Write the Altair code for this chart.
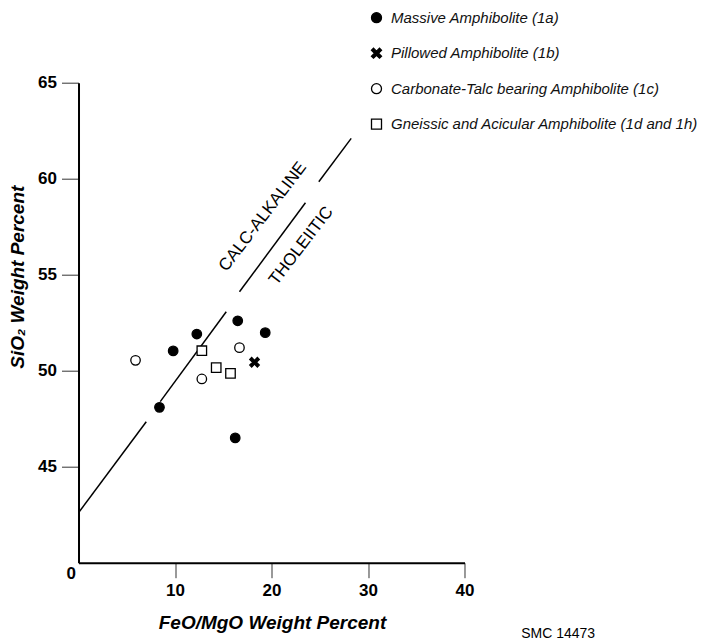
import altair as alt
import pandas as pd

series_names = [
    "Massive Amphibolite (1a)",
    "Pillowed Amphibolite (1b)",
    "Carbonate-Talc bearing Amphibolite (1c)",
    "Gneissic and Acicular Amphibolite (1d and 1h)",
]

massive_x = [16.5, 19.35, 12.26, 9.81, 8.39, 16.24]
massive_y = [52.6, 51.98, 51.91, 51.03, 48.09, 46.5]
pillowed_x = [18.24]
pillowed_y = [50.44]
carbonate_x = [5.91, 16.68, 12.78]
carbonate_y = [50.54, 51.2, 49.57]
gneissic_x = [12.78, 14.27, 15.75]
gneissic_y = [51.04, 50.16, 49.86]

# calc-alkaline / tholeiitic boundary, drawn as broken segments
boundary_x1 = [0.0, 8.47, 16.68, 24.9]
boundary_y1 = [42.6, 48.39, 54.11, 59.84]
boundary_x2 = [7.02, 15.31, 23.52, 28.26]
boundary_y2 = [47.34, 53.07, 58.75, 62.1]

field_labels = ["CALC-ALKALINE", "THOLEIITIC"]
field_x = [19.1, 23.08]
field_y = [58.02, 56.5]

caption = ["SMC 14473"]
caption_x = [49.7]
caption_y = [36.3]

x_ticks = [0, 10, 20, 30, 40]
y_ticks = [45, 50, 55, 60, 65]

FONT = "Liberation Sans"

rows = []
for name, xs, ys in zip(series_names,
                        [massive_x, pillowed_x, carbonate_x, gneissic_x],
                        [massive_y, pillowed_y, carbonate_y, gneissic_y]):
    for a, b in zip(xs, ys):
        rows.append({"series": name, "x": a, "y": b})
pts_df = pd.DataFrame(rows)

seg_df = pd.DataFrame({"x1": boundary_x1, "y1": boundary_y1,
                       "x2": boundary_x2, "y2": boundary_y2})
lab_df = pd.DataFrame({"label": field_labels, "x": field_x, "y": field_y})
cap_df = pd.DataFrame({"label": caption, "x": caption_x, "y": caption_y})

xscale = alt.Scale(domain=[0, 40], nice=False, zero=False)
yscale = alt.Scale(domain=[40, 65], nice=False, zero=False)

is0 = "datum.value == 0"
xaxis = alt.Axis(
    values=x_ticks, title="FeO/MgO Weight Percent", grid=False,
    domainColor="black", domainWidth=2,
    tickColor="#333", tickWidth=1, tickSize=15,
    tickOpacity={"condition": {"test": is0, "value": 0}, "value": 1},
    labelAlign={"condition": {"test": is0, "value": "right"}, "value": "center"},
    labelBaseline={"condition": {"test": is0, "value": "bottom"}, "value": "top"},
    labelOffset={"condition": {"test": is0, "value": -3}, "value": 0},
    labelPadding=5, labelFont=FONT, labelFontSize=17, labelFontWeight="bold",
    labelColor="black",
    titleFont=FONT, titleFontSize=19, titleFontWeight="bold", titleFontStyle="italic",
    titleColor="black", titleX=193.5, titleY=60, titleBaseline="middle",
)
yaxis = alt.Axis(
    values=y_ticks, title="SiO₂ Weight Percent", grid=False,
    domainColor="black", domainWidth=2,
    tickColor="#333", tickWidth=1, tickSize=17,
    labelPadding=5, labelFont=FONT, labelFontSize=17, labelFontWeight="bold",
    labelColor="black",
    titleFont=FONT, titleFontSize=19, titleFontWeight="bold", titleFontStyle="italic",
    titleColor="black", titleAngle=270, titleX=-61, titleY=194,
    titleAlign="center", titleBaseline="middle",
)

xpath = "M-1,-0.6L-0.6,-1L0,-0.4L0.6,-1L1,-0.6L0.4,0L1,0.6L0.6,1L0,0.4L-0.6,1L-1,0.6L-0.4,0Z"

legend = alt.Legend(
    title=None, orient="none", legendX=290.5, legendY=-72.5, padding=0,
    rowPadding=18.5, labelFont=FONT, labelFontSize=15, labelFontStyle="italic",
    labelColor="#111", labelOffset=7, symbolSize=100,
    symbolStrokeWidth=1.3, labelLimit=400,
)

points = alt.Chart(pts_df).mark_point(
    filled=True, strokeWidth=1.3, opacity=1, size=90
).encode(
    x=alt.X("x:Q", scale=xscale, axis=xaxis),
    y=alt.Y("y:Q", scale=yscale, axis=yaxis),
    fill=alt.Fill("series:N", scale=alt.Scale(domain=series_names,
                  range=["black", "black", "white", "white"]), legend=legend),
    stroke=alt.Stroke("series:N", scale=alt.Scale(domain=series_names,
                      range=["black", "black", "black", "black"]), legend=legend),
    shape=alt.Shape("series:N", scale=alt.Scale(domain=series_names,
                    range=["circle", xpath, "circle", "square"]), legend=legend),
)

lines = alt.Chart(seg_df).mark_rule(color="black", strokeWidth=1.5).encode(
    x=alt.X("x1:Q", scale=xscale), y=alt.Y("y1:Q", scale=yscale),
    x2="x2:Q", y2="y2:Q",
)

labels = alt.Chart(lab_df).mark_text(
    angle=307.5, font=FONT, fontSize=17, color="black",
    align="center", baseline="middle",
).encode(x=alt.X("x:Q", scale=xscale), y=alt.Y("y:Q", scale=yscale), text="label:N")

cap = alt.Chart(cap_df).mark_text(
    font=FONT, fontSize=14, color="black", align="center", baseline="middle",
).encode(x=alt.X("x:Q", scale=xscale), y=alt.Y("y:Q", scale=yscale), text="label:N")

chart = alt.layer(lines, points, labels, cap).properties(
    width=386, height=480,
    autosize=alt.AutoSizeParams(type="none"),
    padding={"left": 70.5, "top": 74.7, "right": 244, "bottom": 78},
).configure(background="white").configure_view(stroke=None)

chart.save("out.html", embed_options={"renderer": "svg", "actions": False})
